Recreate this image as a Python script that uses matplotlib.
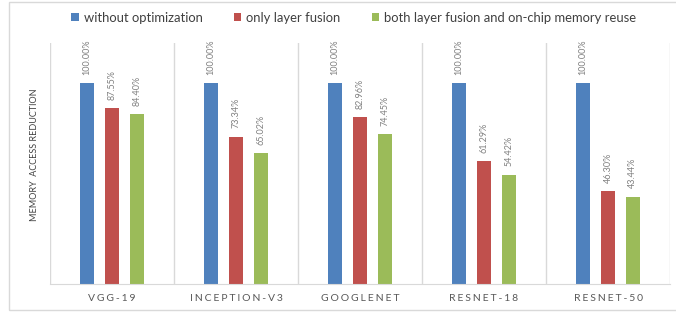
import matplotlib.pyplot as plt
import numpy as np
from matplotlib.patches import Rectangle

# chart data
networks = ['VGG-19', 'INCEPTION-V3', 'GOOGLENET', 'RESNET-18', 'RESNET-50']
series_names = ['without optimization', 'only layer fusion',
                'both layer fusion and on-chip memory reuse']
no_opt = [100.00, 100.00, 100.00, 100.00, 100.00]
fusion = [87.55, 73.34, 82.96, 61.29, 46.30]
fusion_reuse = [84.40, 65.02, 74.45, 54.42, 43.44]

colors = ['#4F81BD', '#C0504D', '#9BBB59']
grid_c = '#D9D9D9'

plt.rcParams['font.family'] = ['Lato', 'DejaVu Sans']

fig = plt.figure(figsize=(6.76, 3.12), dpi=100)
ax = fig.add_axes([50 / 676, 1 - 284 / 312, 620 / 676, 241 / 312])

# outer chart border
fig.patches.append(Rectangle((9 / 676, 2 / 312), 700 / 676, 308 / 312,
                             transform=fig.transFigure, fill=False,
                             edgecolor=grid_c, linewidth=1))

x = np.arange(len(networks))
offset = 0.2
width = 0.11
for i, vals in enumerate([no_opt, fusion, fusion_reuse]):
    xs = x + (i - 1) * offset
    ax.bar(xs, vals, width, color=colors[i], label=series_names[i], zorder=2)
    for xv, v in zip(xs, vals):
        ax.annotate('%.2f%%' % v, (xv, v), xytext=(0, 6),
                    textcoords='offset points', rotation=90,
                    ha='center', va='bottom', fontsize=6.5, color='#808080')

ax.set_xlim(-0.5, len(networks) - 0.5)
ax.set_ylim(0, 120)

# group separators
for b in np.arange(-0.5, len(networks), 1.0):
    ax.axvline(b, color=grid_c, linewidth=1, zorder=1)

for s in ax.spines.values():
    s.set_visible(False)
ax.spines['bottom'].set_visible(True)
ax.spines['bottom'].set_color(grid_c)

ax.set_yticks([])
ax.set_xticks(x)
ax.set_xticklabels(['\u2009\u200a'.join(n) for n in networks], fontsize=7.5,
                   color='#595959')
ax.tick_params(axis='x', length=0, pad=7)

fig.text(35 / 676, 1 - 155 / 312, 'MEMORY  ACCESS REDUCTION', rotation=90,
         ha='center', va='center', fontsize=6.5, color='#404040')

leg = ax.legend(loc='center', bbox_to_anchor=(354 / 676, 1 - 18 / 312),
                bbox_transform=fig.transFigure, ncol=3, frameon=False,
                fontsize=9.4, handlelength=0.55, handleheight=0.55,
                handletextpad=0.4, columnspacing=2.4)
for t in leg.get_texts():
    t.set_color('#404040')

fig.savefig('out.png', dpi=100)
